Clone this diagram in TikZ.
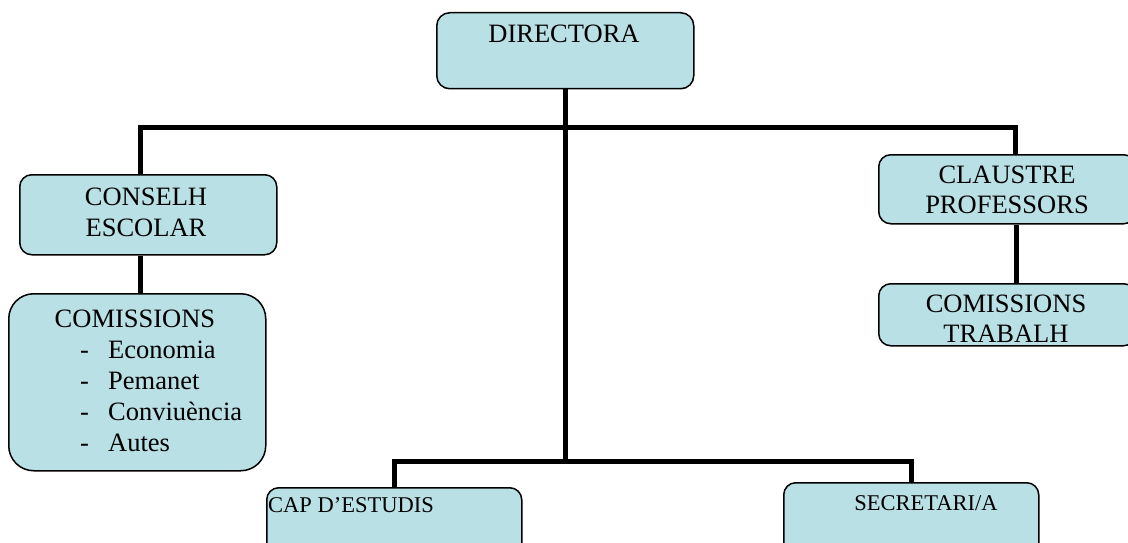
\documentclass[tikz,border=0pt]{standalone}
\usepackage{fontspec}
\setmainfont{Liberation Serif}
\definecolor{boxfill}{RGB}{185,224,228}
\begin{document}
\begin{tikzpicture}[x=1pt,y=-1pt,
  box/.style={draw=black,line width=1.5pt,fill=boxfill,rounded corners=#1,inner sep=0pt,anchor=north west},
  box/.default=12pt,
  conn/.style={draw=black,line width=5pt,line join=miter},
  txt/.style={inner sep=0pt,font=\fontsize{26.5}{31}\selectfont,align=center},
  small/.style={inner sep=0pt,font=\fontsize{22.5}{27}\selectfont}
]
\useasboundingbox (0,0) rectangle (1128,543);
% boxes
\node[box=13pt, minimum width=257pt, minimum height=76pt] (dir) at (436,12) {};
\node[box=12pt, minimum width=257pt, minimum height=80pt] (cons) at (19,174) {};
\node[box=25pt, minimum width=257pt, minimum height=177pt] (com) at (8,293) {};
\node[box=12pt, minimum width=257pt, minimum height=69pt] (claus) at (878,154) {};
\node[box=12pt, minimum width=257pt, minimum height=62pt] (trab) at (878,283) {};
\node[box=12pt, minimum width=255pt, minimum height=76pt] (cap) at (266,487) {};
\node[box=12pt, minimum width=255pt, minimum height=76pt] (sec) at (783,482) {};
% hubs
\coordinate (hub) at (565,127);
\coordinate (hub2) at (565,461);
% connectors
\draw[conn] (dir.south -| hub) -- (hub2);
\draw[conn] ([xshift=-7.5pt]cons.north) |- (hub) -| ([xshift=8.5pt]claus.north);
\draw[conn] ([xshift=-7.5pt]cons.south) -- ([xshift=-7.5pt]cons.south |- com.north);
\draw[conn] ([xshift=9pt]claus.south) -- ([xshift=9pt]claus.south |- trab.north);
\draw[conn] (cap.north) |- (hub2) -| (sec.north);
% texts
\node[txt, anchor=base] (tdir) at (564,43) {DIRECTORA};
\node[txt, anchor=base] (tcons1) at (146,205) {CONSELH};
\node[txt, anchor=base] (tcons2) at (146,236) {ESCOLAR};
\node[txt, anchor=base] (tcom) at (135,327) {COMISSIONS};
\node[txt, anchor=base west] (i1) at (80,358) {\makebox[28pt][l]{-}Economia};
\node[txt, anchor=base west] (i2) at (80,389) {\makebox[28pt][l]{-}Pemanet};
\node[txt, anchor=base west] (i3) at (80,420) {\makebox[28pt][l]{-}Conviuència};
\node[txt, anchor=base west] (i4) at (80,451) {\makebox[28pt][l]{-}Autes};
\node[txt, anchor=base] (tcl1) at (1007,183) {CLAUSTRE};
\node[txt, anchor=base] (tcl2) at (1007,213) {PROFESSORS};
\node[txt, anchor=base] (ttr1) at (1006,312) {COMISSIONS};
\node[txt, anchor=base] (ttr2) at (1006,342) {TRABALH};
\node[small, anchor=base west] (tcap) at (268,512) {CAP D’ESTUDIS};
\node[small, anchor=base] (tsec) at (926,510) {SECRETARI/A};
\end{tikzpicture}
\end{document}
